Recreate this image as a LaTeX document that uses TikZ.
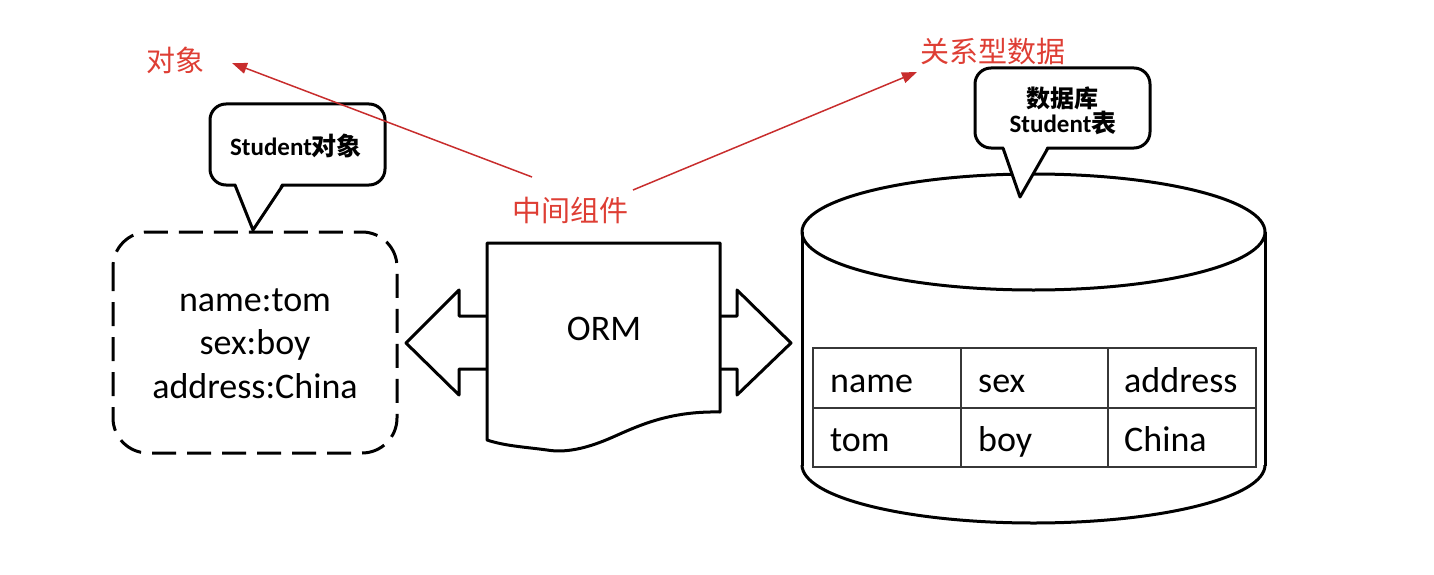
\documentclass[tikz,border=0pt]{standalone}
\usepackage{fontspec}
\setmainfont{Carlito}
\newfontfamily\cjk{Noto Sans CJK SC}
\usetikzlibrary{arrows.meta}
\definecolor{redtxt}{RGB}{222,62,52}
\definecolor{redline}{RGB}{200,45,45}
\definecolor{tblline}{RGB}{55,55,55}
\begin{document}
\begin{tikzpicture}[x=1pt,y=-1pt,
  blk/.style={line width=3pt, line join=round},
  dashbox/.style={blk, dash pattern=on 24pt off 11pt, rounded corners=35pt},
  bubble/.style={blk, fill=white, rounded corners=16pt},
  redlbl/.style={text=redtxt, font=\cjk\fontsize{29}{33}\selectfont, inner sep=0pt},
  redarr/.style={draw=redline, line width=1.5pt, -{Triangle[length=15pt,width=11pt]}},
  bigtxt/.style={font=\fontsize{36}{40}\selectfont, inner sep=0pt},
  bubtxt/.style={font=\bfseries\fontsize{25}{30}\selectfont, inner sep=0pt},
  cell/.style={font=\fontsize{36}{40}\selectfont, inner sep=0pt, anchor=base west},
  tbl/.style={draw=tblline, line width=1.8pt}]
\useasboundingbox (0,0) rectangle (1434,575);

% ---------- left object box ----------
\draw[dashbox] (113,232) rectangle (397,453);
\node[bigtxt, anchor=base] (n1) at (255,311) {name:tom};
\node[bigtxt, anchor=base] (n2) at (255,354) {sex:boy};
\node[bigtxt, anchor=base] (n3) at (255,398) {address:China};

% ---------- left speech bubble ----------
\draw[bubble] (210,104) rectangle (385,185);
\fill[white] (235,181) -- (283,181) -- (253,230) -- cycle;
\draw[blk] (235,185) -- (253,230) -- (283,185);
\node[bubtxt, anchor=base] (sb) at (296,155) {Student{\cjk 对象}};

% block arrows (drawn first, the document shape covers their inner ends)
\draw[blk, fill=white] (490,316) -- (459,316) -- (459,290) -- (406,343) -- (459,395) -- (459,369) -- (490,369);
\draw[blk, fill=white] (717,316) -- (737,316) -- (737,290) -- (791,343) -- (737,395) -- (737,369) -- (717,369);

% ---------- ORM document ----------
\draw[blk, fill=white] (487,440) -- (487,243) -- (720,243) -- (720,412)
  .. controls (670,411) and (640,425) .. (613,437)
  .. controls (586,449) and (565,453) .. (547,450)
  .. controls (525,447) and (505,446) .. (487,440) -- cycle;
\node[bigtxt, anchor=base] (orm) at (604,340) {ORM};

% ---------- database cylinder ----------
\draw[blk] (1033.5,232) ellipse [x radius=231.5, y radius=58];
\draw[blk] (802,232) -- (802,466);
\draw[blk] (1265,232) -- (1265,466);
\begin{scope}
  \clip (780,465) rectangle (1290,540);
  \draw[blk] (1033.5,465) ellipse [x radius=231.5, y radius=58];
\end{scope}

% table
\draw[tbl] (813,348) rectangle (1256,467);
\draw[tbl] (813,408) -- (1256,408);
\draw[tbl] (961,348) -- (961,467);
\draw[tbl] (1108,348) -- (1108,467);
\node[cell] (c11) at (830,392) {name};
\node[cell] (c12) at (978,392) {sex};
\node[cell] (c13) at (1124,392) {address};
\node[cell] (c21) at (830,451) {tom};
\node[cell] (c22) at (978,451) {boy};
\node[cell] (c23) at (1124,451) {China};

% ---------- right speech bubble ----------
\draw[bubble] (975,68) rectangle (1150,148);
\fill[white] (1003,144) -- (1048,144) -- (1020,197) -- cycle;
\draw[blk] (1003,148) -- (1020,197) -- (1048,148);
\node[bubtxt, font=\cjk\bfseries\fontsize{24}{28}\selectfont] (db1) at (1062,98) {数据库};
\node[bubtxt, anchor=base] (db2) at (1063,132) {Student{\cjk 表}};

% ---------- red labels and arrows ----------
\node[redlbl] (obj) at (175,60) {对象};
\node[redlbl] (mid) at (570,210) {中间组件};
\node[redlbl] (rel) at (993,52) {关系型数据};
\coordinate (ls) at (532,177);
\coordinate (lt) at (232,63);
\coordinate (rs) at (633,190);
\coordinate (rt) at (917,72);
\draw[redarr] (ls) -- (lt);
\draw[redarr] (rs) -- (rt);
\end{tikzpicture}
\end{document}
